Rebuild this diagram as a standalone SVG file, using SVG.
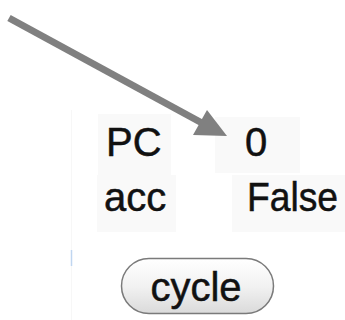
<svg xmlns="http://www.w3.org/2000/svg" width="345" height="320" viewBox="0 0 345 320">
<defs>
<linearGradient id="btn" x1="0" y1="0" x2="0" y2="1">
<stop offset="0" stop-color="#ffffff"/>
<stop offset="0.5" stop-color="#f2f2f2"/>
<stop offset="1" stop-color="#dadada"/>
</linearGradient>
<style>
.t{font-family:"Liberation Sans",Arial,Helvetica,sans-serif;font-size:40px;fill:#111;stroke:#111;stroke-width:0.5}
.cell{fill:#f9f9f9}
</style>
</defs>
<rect width="345" height="320" fill="#ffffff"/>
<line x1="71.5" y1="110" x2="71.5" y2="320" stroke="#f7f7f7" stroke-width="1"/>
<line x1="71.5" y1="250" x2="71.5" y2="266" stroke="#c0d6f0" stroke-width="1.5"/>
<g id="pc-label"><rect class="cell" x="98" y="114" width="73" height="62"/><text class="t" x="106" y="156">PC</text></g>
<g id="pc-value"><rect class="cell" x="215" y="117" width="85" height="56"/><text class="t" x="245" y="156">0</text></g>
<g id="acc-label"><rect class="cell" x="97" y="175" width="79" height="57"/><text class="t" x="104" y="211">acc</text></g>
<g id="acc-value"><rect class="cell" x="232" y="175" width="113" height="57"/><text class="t" x="247" y="211" textLength="91" lengthAdjust="spacingAndGlyphs">False</text></g>
<g id="cycle-button"><rect x="121.5" y="258.5" width="152" height="55" rx="27.5" fill="url(#btn)" stroke="#7a7a7a" stroke-width="1.5"/><text class="t" x="196" y="301" text-anchor="middle">cycle</text></g>
<g id="connectors">
<line x1="9" y1="18" x2="202" y2="123" stroke="#808080" stroke-width="7"/>
<polygon points="227,136 193,135 207,110" fill="#808080"/>
</g>
</svg>
